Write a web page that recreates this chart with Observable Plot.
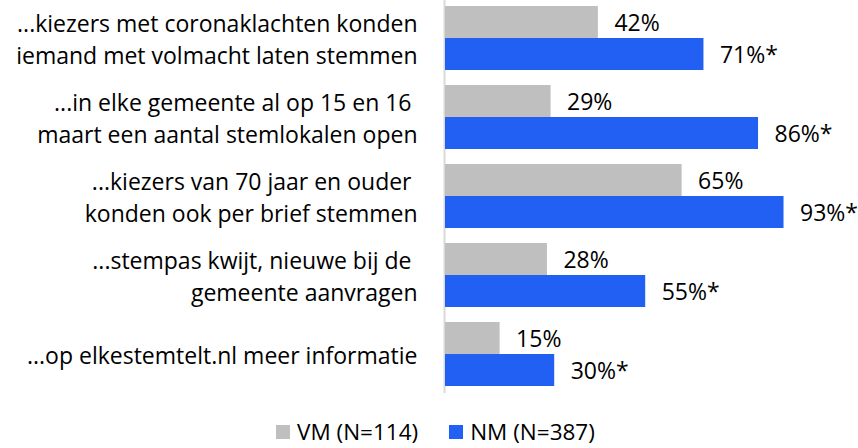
<!DOCTYPE html>
<html>
<head>
<meta charset="utf-8">
<script src="https://cdn.jsdelivr.net/npm/d3@7"></script>
<script src="https://cdn.jsdelivr.net/npm/@observablehq/plot@0.6"></script>
<style>
  body { margin: 0; background: #fff; font-family: "Open Sans", sans-serif; }
  #chart svg { display: block; }
  #legend { position: absolute; top: 420px; left: 276px; display: flex; align-items: center; font-size: 22.5px; line-height: 24px; color: #000; }
  .item { display: flex; align-items: center; margin-right: 31px; }
  .sw { width: 14px; height: 14px; margin-right: 7px; }
</style>
</head>
<body>
<div id="chart"></div>
<div id="legend"></div>
<script>
const categories = [
  "...kiezers met coronaklachten konden\niemand met volmacht laten stemmen",
  "...in elke gemeente al op 15 en 16\u00a0\nmaart een aantal stemlokalen open",
  "...kiezers van 70 jaar en ouder\u00a0\nkonden ook per brief stemmen",
  "...stempas kwijt, nieuwe bij de\u00a0\ngemeente aanvragen",
  "...op elkestemtelt.nl meer informatie"
];
const seriesNames = ["VM (N=114)", "NM (N=387)"];
const vmValues = [42, 29, 65, 28, 15];
const nmValues = [71, 86, 93, 55, 30];
const nmSuffix = "*";
const colors = ["#bfbfbf", "#2160f3"];

const vmRows = categories.map((c, i) => ({category: c, value: vmValues[i], label: vmValues[i] + "%"}));
const nmRows = categories.map((c, i) => ({category: c, value: nmValues[i], label: nmValues[i] + "%" + nmSuffix}));

const chart = Plot.plot({
  width: 858,
  height: 395,
  marginLeft: 445,
  marginRight: 49,
  marginTop: 0,
  marginBottom: 2,
  style: {fontFamily: "'Open Sans', sans-serif", color: "#000", background: "#fff"},
  x: {domain: [0, 100], axis: null},
  y: {domain: categories, range: [-1, 392], paddingInner: 0.19, paddingOuter: 0.07},
  marks: [
    Plot.ruleX([0], {stroke: "#d9d9d9", strokeWidth: 2, dx: -1}),
    Plot.barX(vmRows, {x: "value", y: "category", fill: colors[0], insetBottom: 32}),
    Plot.barX(nmRows, {x: "value", y: "category", fill: colors[1], insetTop: 32}),
    Plot.text(vmRows, {x: "value", y: "category", text: "label", dy: -15, dx: 16, textAnchor: "start", fontSize: 23, fill: "#000"}),
    Plot.text(nmRows, {x: "value", y: "category", text: "label", dy: 17, dx: 16, textAnchor: "start", fontSize: 23, fill: "#000"}),
    Plot.axisY({tickSize: 0, tickPadding: 28, fontSize: 23, lineHeight: 1.43, dy: -1, label: null, fill: "#000"})
  ]
});
document.getElementById("chart").append(chart);

const legend = document.getElementById("legend");
seriesNames.forEach((name, i) => {
  const item = document.createElement("div");
  item.className = "item";
  const sw = document.createElement("div");
  sw.className = "sw";
  sw.style.background = colors[i];
  const t = document.createElement("span");
  t.textContent = name;
  item.append(sw, t);
  legend.append(item);
});
</script>
</body>
</html>
